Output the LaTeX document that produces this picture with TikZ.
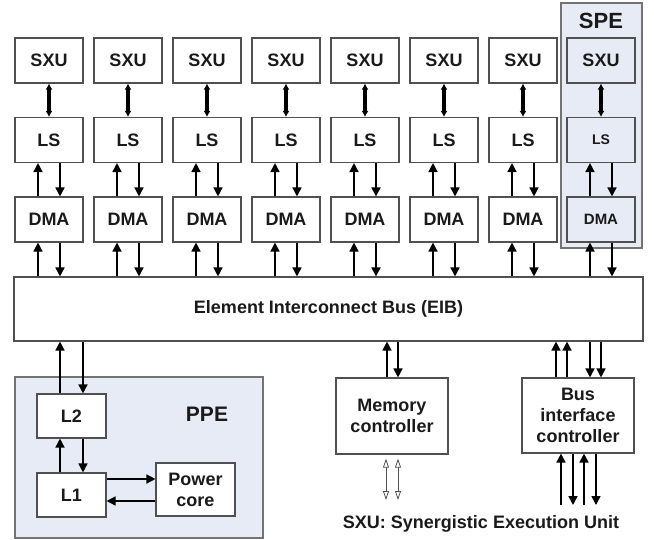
\documentclass[tikz,border=0pt]{standalone}
\usepackage{fontspec}
\setmainfont{Liberation Sans}
\usetikzlibrary{arrows.meta}
\definecolor{bfill}{HTML}{E6EBF5}
\definecolor{bline}{HTML}{505050}
\definecolor{tcol}{HTML}{1A1A1A}
\begin{document}
\begin{tikzpicture}[x=1pt,y=-1pt,
  box/.style={draw=bline, line width=1.1pt, fill=white, minimum width=68pt, minimum height=45pt,
    inner sep=0pt, font=\fontsize{18}{21}\selectfont\bfseries, text=tcol, align=center},
  arr/.style={line width=1.5pt, -{Triangle[length=9pt,width=9pt]}},
  dbl/.style={line width=3.2pt, {Latex[length=6pt,width=7pt]}-{Latex[length=6pt,width=7pt]}},
  hol/.style={line width=0.8pt, draw=bline, {Triangle[open,length=9pt,width=6pt,fill=white]}-{Triangle[open,length=9pt,width=6pt,fill=white]}},
  lbl/.style={font=\fontsize{#1}{#1}\selectfont\bfseries, text=tcol, inner sep=0pt},
  region/.style={draw=bline!80, fill=bfill, line width=1.1pt, inner sep=0pt}
]
\useasboundingbox (0,0) rectangle (654,539);

% SPE background
\node[region, minimum width=81pt, minimum height=245pt] (spe) at (601.5,125.5) {};
\node[lbl=22] (spelbl) at (601,21) {SPE};

% columns
\foreach \i/\x in {1/49,2/128,3/207,4/286,5/365,6/444,7/523}{
  \node[box] (sxu\i) at (\x,60.5) {SXU};
  \node[box] (ls\i) at (\x,140) {LS};
  \node[box] (dma\i) at (\x,219.5) {DMA};
}
\node[box, fill=bfill] (sxu8) at (601,60.5) {SXU};
\node[box, fill=bfill, font=\fontsize{14}{14}\selectfont\bfseries] (ls8) at (601,140) {LS};
\node[box, fill=bfill, font=\fontsize{15}{15}\selectfont\bfseries] (dma8) at (601,219.5) {DMA};

% bus
\node[box, minimum width=629pt, minimum height=64pt] (bus) at (328.5,309) {Element Interconnect Bus (EIB)};

% column arrows
\foreach \i in {1,...,8}{
  \draw[dbl] (sxu\i.south) -- (ls\i.north);
  \draw[arr] ([xshift=-11pt]dma\i.north) -- ([xshift=-11pt]ls\i.south);
  \draw[arr] ([xshift=11pt]ls\i.south) -- ([xshift=11pt]dma\i.north);
  \draw[arr] ([xshift=-11pt]dma\i.south |- bus.north) -- ([xshift=-11pt]dma\i.south);
  \draw[arr] ([xshift=11pt]dma\i.south) -- ([xshift=11pt]dma\i.south |- bus.north);
}

% PPE
\node[region, minimum width=248pt, minimum height=161pt] (ppe) at (139,457.5) {};
\node[lbl=21] (ppelbl) at (207,414) {PPE};
\node[box, minimum width=69pt, minimum height=44pt] (l2) at (71.5,416) {L2};
\node[box, minimum width=69pt, minimum height=44pt] (l1) at (71.5,495) {L1};
\node[box, minimum width=79pt, minimum height=53pt] (pc) at (195.5,489.5) {Power\\core};

\draw[arr] ([xshift=-11.5pt]l2.north) -- ([xshift=-11.5pt]l2.north |- bus.south);
\draw[arr] ([xshift=11.5pt]l2.north |- bus.south) -- ([xshift=11.5pt]l2.north);
\draw[arr] ([xshift=-11.5pt]l1.north) -- ([xshift=-11.5pt]l2.south);
\draw[arr] ([xshift=11.5pt]l2.south) -- ([xshift=11.5pt]l1.north);
\draw[arr] ([yshift=16pt]l1.east) -- ([yshift=16pt]l1.east -| pc.west);
\draw[arr] ([yshift=-6pt]l1.east -| pc.west) -- ([yshift=-6pt]l1.east);

% Memory controller
\node[box, minimum width=112pt, minimum height=76pt] (mem) at (392,416) {Memory\\controller};
\draw[arr] ([xshift=-5pt]mem.north) -- ([xshift=-5pt]mem.north |- bus.south);
\draw[arr] ([xshift=6pt]mem.north |- bus.south) -- ([xshift=6pt]mem.north);
\coordinate (m1) at (386,500);
\coordinate (m2) at (398,500);
\draw[hol] ([yshift=-4pt]mem.south -| m1) -- (m1);
\draw[hol] ([yshift=-4pt]mem.south -| m2) -- (m2);

% Bus interface controller
\node[box, minimum width=112pt, minimum height=75pt] (bic) at (578,415.5) {Bus\\interface\\controller};
\foreach \dx in {-22,-11}{
  \draw[arr] ([xshift=\dx pt]bic.north) -- ([xshift=\dx pt]bic.north |- bus.south);
}
\foreach \dx in {12,23}{
  \draw[arr] ([xshift=\dx pt]bic.north |- bus.south) -- ([xshift=\dx pt]bic.north);
}
\coordinate (b1) at (561,505);
\coordinate (b2) at (573,505);
\coordinate (b3) at (584,505);
\coordinate (b4) at (596,505);
\draw[arr] (b1) -- (b1 |- bic.south);
\draw[arr] (b2 |- bic.south) -- (b2);
\draw[arr] (b3) -- (b3 |- bic.south);
\draw[arr] (b4 |- bic.south) -- (b4);

% caption
\node[lbl=18] (cap) at (481,524) {SXU: Synergistic Execution Unit};
\end{tikzpicture}
\end{document}
